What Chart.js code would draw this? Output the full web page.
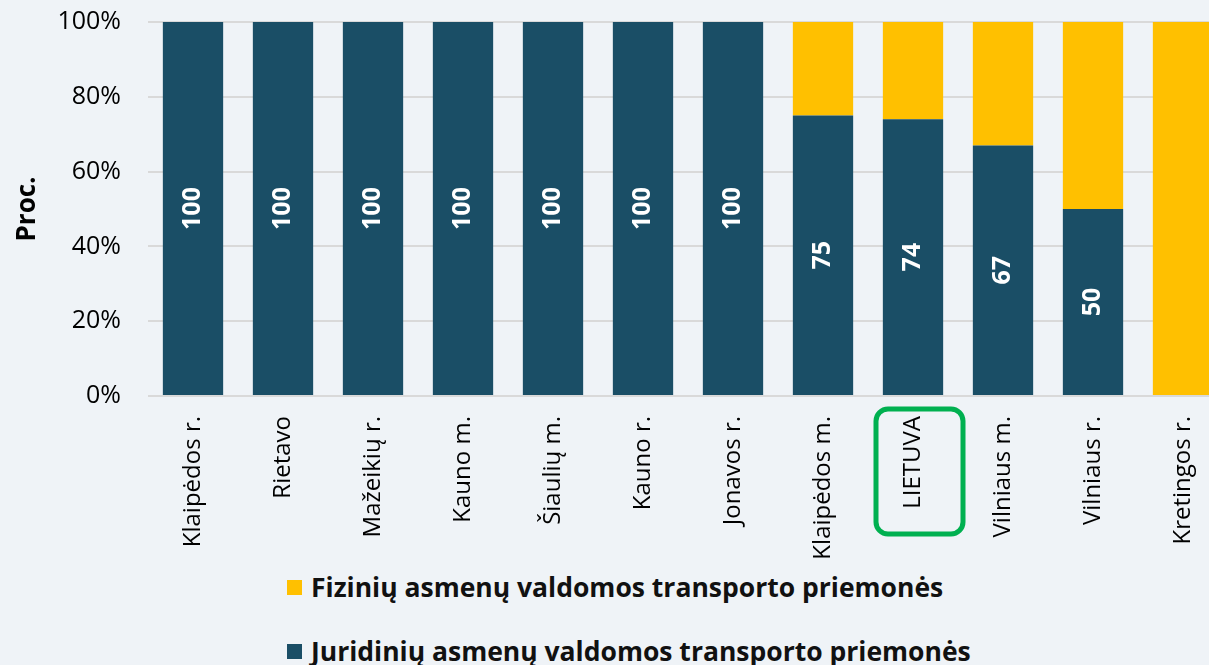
<!DOCTYPE html>
<html lang="lt">
<head>
<meta charset="utf-8">
<title>Transporto priemonės pagal valdytoją</title>
<script src="https://cdn.jsdelivr.net/npm/chart.js@4.4.1/dist/chart.umd.min.js"></script>
<style>
    html, body { margin: 0; padding: 0; background: #eff3f7; overflow: hidden; }
    #wrap { position: absolute; left: 0; top: -20px; width: 1228px; height: 580px; }
    #legend { position: absolute; left: 287px; top: 567px; font-family: "Open Sans", sans-serif; font-weight: bold; font-size: 26.5px; color: #111; }
    #legend .item { display: flex; align-items: center; height: 40px; margin-bottom: 24px; white-space: nowrap; }
    #legend .box { width: 15px; height: 15px; margin-right: 9px; }
</style>
</head>
<body>
<div id="wrap"><canvas id="chartTransportas"></canvas></div>
<div id="legend"></div>
<script>
    // --- DATA ---
    const kategorijos = ['Klaipėdos r.', 'Rietavo', 'Mažeikių r.', 'Kauno m.', 'Šiaulių m.', 'Kauno r.',
        'Jonavos r.', 'Klaipėdos m.', 'LIETUVA', 'Vilniaus m.', 'Vilniaus r.', 'Kretingos r.'];
    const juridiniu = [100, 100, 100, 100, 100, 100, 100, 75, 74, 67, 50, 0];
    const fiziniu = [0, 0, 0, 0, 0, 0, 0, 25, 26, 33, 50, 100];
    const yTicks = [0, 20, 40, 60, 80, 100];
    const paryskinta = 'LIETUVA';

    const TAMSI = '#1a4e66';
    const GELTONA = '#ffc000';
    const SRIFTAS = '"Open Sans", sans-serif';

    // baltos reikšmės tamsiuose stulpeliuose, pasuktos vertikaliai
    const reiksmes = {
        id: 'reiksmes',
        afterDatasetsDraw(chart) {
            const { ctx } = chart;
            const meta = chart.getDatasetMeta(0);
            ctx.save();
            ctx.fillStyle = '#ffffff';
            ctx.font = 'bold 25px ' + SRIFTAS;
            ctx.textAlign = 'center';
            ctx.textBaseline = 'middle';
            meta.data.forEach((bar, i) => {
                if (!juridiniu[i]) return;
                const cy = (bar.y + bar.base) / 2;
                ctx.save();
                ctx.translate(bar.x, cy);
                ctx.rotate(-Math.PI / 2);
                ctx.fillText(String(juridiniu[i]), 0, 0);
                ctx.restore();
            });
            ctx.restore();
        }
    };

    // žalias rėmelis aplink LIETUVA etiketę
    const remelis = {
        id: 'remelis',
        afterDraw(chart) {
            const { ctx, scales, chartArea } = chart;
            const idx = kategorijos.indexOf(paryskinta);
            if (idx < 0) return;
            const x = scales.x.getPixelForValue(idx);
            const left = x - 37, top = chartArea.bottom + 13, w = 87, h = 125;
            ctx.save();
            ctx.strokeStyle = '#00b050';
            ctx.lineWidth = 5;
            ctx.beginPath();
            ctx.roundRect(left, top, w, h, 12);
            ctx.stroke();
            ctx.restore();
        }
    };

    const ctx = document.getElementById('chartTransportas');
    const chart = new Chart(ctx, {
        type: 'bar',
        data: {
            labels: kategorijos,
            datasets: [
                { label: 'Juridinių asmenų valdomos transporto priemonės', data: juridiniu, backgroundColor: TAMSI, borderWidth: 0 },
                { label: 'Fizinių asmenų valdomos transporto priemonės', data: fiziniu, backgroundColor: GELTONA, borderWidth: 0 }
            ]
        },
        options: {
            responsive: true,
            maintainAspectRatio: false,
            animation: false,
            layout: { padding: { top: 4, right: 0, left: 0, bottom: 0 } },
            datasets: { bar: { categoryPercentage: 1, barPercentage: 0.67 } },
            plugins: { legend: { display: false }, tooltip: { enabled: false } },
            scales: {
                x: {
                    stacked: true,
                    grid: { display: false },
                    border: { display: false },
                    ticks: {
                        minRotation: 90, maxRotation: 90, padding: 12,
                        color: '#000', font: { family: SRIFTAS, size: 24 }
                    },
                    afterFit(scale) { scale.height = 164; }
                },
                y: {
                    stacked: true,
                    min: 0, max: 100,
                    afterBuildTicks(scale) { scale.ticks = yTicks.map(v => ({ value: v })); },
                    grid: { color: '#d9d9d9', lineWidth: 2, drawTicks: false },
                    border: { display: false },
                    ticks: {
                        padding: 27, color: '#000',
                        font: { family: SRIFTAS, size: 25 },
                        callback: v => v + '%'
                    },
                    title: {
                        display: true, text: 'Proc.', color: '#000',
                        font: { family: SRIFTAS, size: 26, weight: 'bold' }, padding: { top: 12, bottom: 0 }
                    },
                    afterFit(scale) { scale.width = 148; }
                }
            }
        },
        plugins: [reiksmes, remelis]
    });

    // legenda: geltona viršuje, tamsi apačioje
    const legend = document.getElementById('legend');
    chart.data.datasets.slice().reverse().forEach(ds => {
        const item = document.createElement('div');
        item.className = 'item';
        item.innerHTML = '<span class="box" style="background:' + ds.backgroundColor + '"></span>' + ds.label;
        legend.appendChild(item);
    });
</script>
</body>
</html>
